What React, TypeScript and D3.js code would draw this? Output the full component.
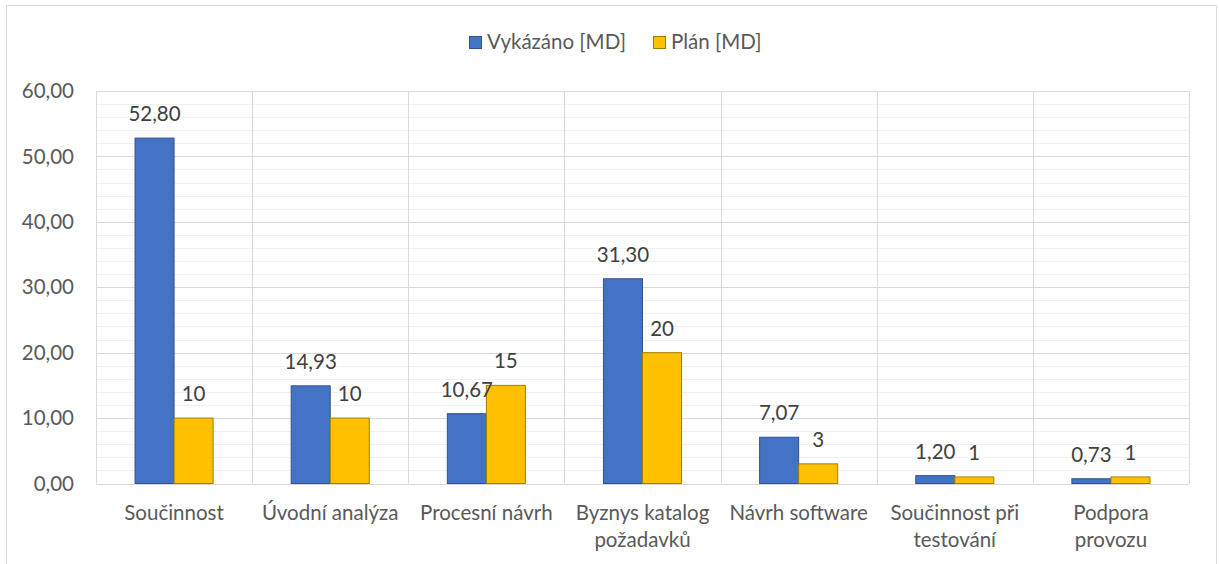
import React from "react";
import * as d3 from "d3";

const categories = [
  "Součinnost",
  "Úvodní analýza",
  "Procesní návrh",
  "Byznys katalog\npožadavků",
  "Návrh software",
  "Součinnost při\ntestování",
  "Podpora\nprovozu",
];
const reported = [52.8, 14.93, 10.67, 31.3, 7.07, 1.2, 0.73];
const planned = [10, 10, 15, 20, 3, 1, 1];
const seriesNames = ["Vykázáno [MD]", "Plán [MD]"];
const yTicks = [0, 10, 20, 30, 40, 50, 60];

const W = 1219;
const H = 564;
const plot = { left: 96, right: 1189, top: 91, bottom: 483.5 };
const FONT = "Lato, 'Open Sans', sans-serif";
const FS = 20.5;
const TXT = "#595959";
const colors = ["#4472c4", "#ffc000"];
const strokes = ["#2f528f", "#a07c00"];

const fmt2 = (v: number) => v.toFixed(2).replace(".", ",");
const fmt0 = (v: number) => String(v).replace(".", ",");

export default function App() {
  const x = d3
    .scaleBand<string>()
    .domain(categories)
    .range([plot.left, plot.right])
    .paddingInner(0)
    .paddingOuter(0);
  const y = d3.scaleLinear().domain([0, 60]).range([plot.bottom, plot.top]);
  const bw = x.bandwidth();
  const barW = bw / 4;
  const minorTicks = d3.range(0, 61, 2).filter((v) => v % 10 !== 0);
  const series = [reported, planned];

  return (
    <svg
      width={W}
      height={H}
      style={{ position: "absolute", left: 0, top: 0, background: "#fff" }}
      fontFamily={FONT}
    >
      <rect x={0} y={0} width={W} height={H} fill="#fff" />
      {/* chart frame */}
      <path
        d={`M6.5,${H} V5.5 H1216.5 V${H}`}
        fill="none"
        stroke="#d9d9d9"
        strokeWidth={1}
      />
      {/* minor gridlines */}
      {minorTicks.map((t) => (
        <line
          key={"m" + t}
          x1={plot.left}
          x2={plot.right}
          y1={Math.round(y(t)) + 0.5}
          y2={Math.round(y(t)) + 0.5}
          stroke="#f0f0f0"
        />
      ))}
      {/* major gridlines */}
      {yTicks.map((t) => (
        <line
          key={"M" + t}
          x1={plot.left}
          x2={plot.right}
          y1={Math.round(y(t)) + 0.5}
          y2={Math.round(y(t)) + 0.5}
          stroke="#d9d9d9"
        />
      ))}
      {/* vertical gridlines */}
      {categories.map((c, i) => (
        <line
          key={"v" + i}
          x1={Math.round(x(c)!) + 0.5}
          x2={Math.round(x(c)!) + 0.5}
          y1={plot.top}
          y2={plot.bottom}
          stroke="#d9d9d9"
        />
      ))}
      <line
        x1={plot.right + 0.5}
        x2={plot.right + 0.5}
        y1={plot.top}
        y2={plot.bottom}
        stroke="#d9d9d9"
      />
      {/* y tick labels */}
      {yTicks.map((t) => (
        <text
          key={"yt" + t}
          x={74}
          y={y(t)}
          dy="0.35em"
          textAnchor="end"
          fontSize={FS}
          fill={TXT}
        >
          {fmt2(t)}
        </text>
      ))}
      {/* bars */}
      {categories.map((c, i) =>
        series.map((s, k) => {
          const bx = x(c)! + bw / 4 + k * barW;
          const by = y(s[i]);
          return (
            <rect
              key={"b" + c + k}
              x={bx}
              y={by}
              width={barW}
              height={plot.bottom - by}
              fill={colors[k]}
              stroke={strokes[k]}
              strokeWidth={1}
            />
          );
        })
      )}
      {/* data labels */}
      {categories.map((c, i) =>
        series.map((s, k) => {
          const bx = x(c)! + bw / 4 + k * barW;
          const by = y(s[i]);
          return (
            <text
              key={"l" + c + k}
              x={bx + barW / 2}
              y={by - 17}
              textAnchor="middle"
              fontSize={FS}
              fill="#404040"
            >
              {k === 0 ? fmt2(s[i]) : fmt0(s[i])}
            </text>
          );
        })
      )}
      {/* x labels */}
      {categories.map((c) => (
        <text
          key={"xl" + c}
          x={x(c)! + bw / 2}
          y={520}
          textAnchor="middle"
          fontSize={FS}
          fill={TXT}
        >
          {c.split("\n").map((line, j) => (
            <tspan key={j} x={x(c)! + bw / 2} dy={j === 0 ? 0 : 27}>
              {line}
            </tspan>
          ))}
        </text>
      ))}
      {/* legend */}
      {(() => {
        const items = [
          { x: 469, tx: 487 },
          { x: 653, tx: 671 },
        ];
        return seriesNames.map((n, k) => (
          <g key={n}>
            <rect
              x={items[k].x + 0.5}
              y={36.5}
              width={12}
              height={12}
              fill={colors[k]}
              stroke={strokes[k]}
            />
            <text x={items[k].tx} y={42} dy="0.35em" fontSize={FS} fill={TXT}>
              {n}
            </text>
          </g>
        ));
      })()}
    </svg>
  );
}
